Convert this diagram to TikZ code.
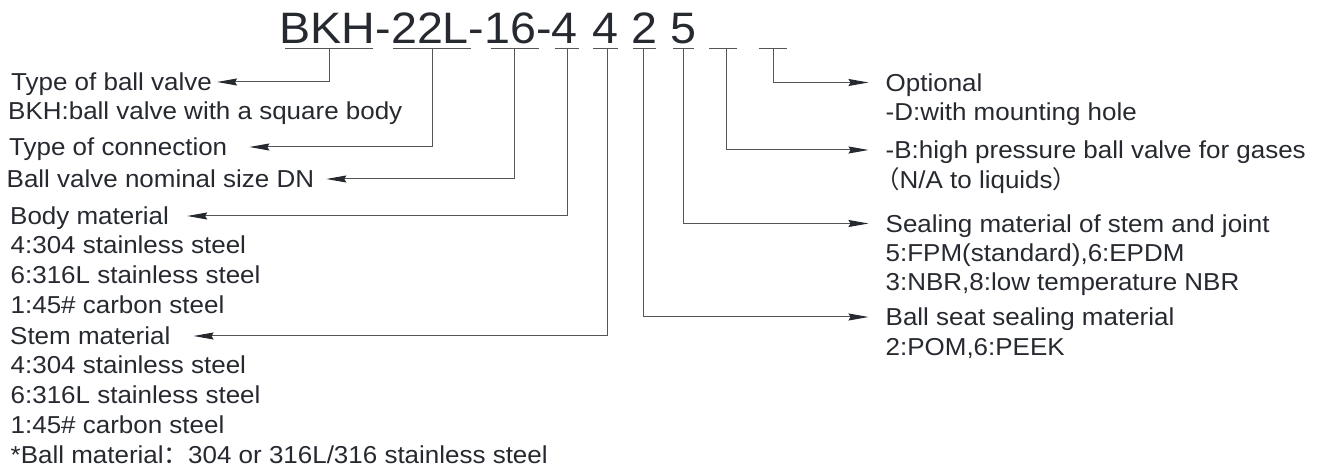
\documentclass[tikz,border=0pt]{standalone}
\usepackage{fontspec}
\setmainfont{Liberation Sans}[FakeStretch=1.06]
\newfontfamily\cjk{Noto Sans CJK SC}
\usetikzlibrary{arrows.meta}
\definecolor{ink}{HTML}{262A30}
\definecolor{wire}{HTML}{555555}
\tikzset{
  code/.style={inner sep=0pt, anchor=base, text=ink, font=\fontsize{44}{50}\selectfont},
  lbl/.style={inner sep=0pt, anchor=west, text=ink, text height=17.5pt, text depth=0pt, font=\fontsize{24.5}{29}\selectfont},
  uline/.style={wire, line width=1pt},
  lead/.style={wire, line width=1pt, -{Stealth[length=20pt,width=7pt,inset=2pt,color=ink]}}
}
\begin{document}
\begin{tikzpicture}[x=1pt,y=-1pt]
\useasboundingbox (0,0) rectangle (1318,470);
% order code
\node[code, anchor=base west] (codeA) at (279.5,43.3) {BKH-22L-16-4};
\node[code] (codeB) at (605,43.3) {4};
\node[code] (codeC) at (644,43.3) {2};
\node[code] (codeD) at (683,43.3) {5};
% underlines
\draw[uline] (285,49) -- (373,49);
\draw[uline] (393,49) -- (471,49);
\draw[uline] (491,49) -- (539,49);
\draw[uline] (555,49) -- (579,49);
\draw[uline] (593,49) -- (618,49);
\draw[uline] (633,49) -- (656,49);
\draw[uline] (673,49) -- (694,49);
\draw[uline] (709,49) -- (737,49);
\draw[uline] (759,49) -- (787,49);
% stems
\coordinate (sType) at (329,49);
\coordinate (sConn) at (432,49);
\coordinate (sSize) at (514,49);
\coordinate (sBody) at (567,49);
\coordinate (sStem) at (607,49);
\coordinate (sSeat) at (643,49);
\coordinate (sSeal) at (683,49);
\coordinate (sGas) at (726,49);
\coordinate (sOpt) at (773,49);
% left side
\node[lbl] (lType) at (11,82) {Type of ball valve};
\node[lbl] (lType1) at (8,111) {BKH:ball valve with a square body};
\node[lbl] (lConn) at (9,147) {Type of connection};
\node[lbl] (lSize) at (6.5,179) {Ball valve nominal size DN};
\node[lbl] (lBody) at (10,216) {Body material};
\node[lbl] (lBody1) at (10.5,245) {4:304 stainless steel};
\node[lbl] (lBody2) at (10.5,275) {6:316L stainless steel};
\node[lbl] (lBody3) at (10.5,305) {1:45\# carbon steel};
\node[lbl] (lStem) at (10,336) {Stem material};
\node[lbl] (lStem1) at (10.5,365) {4:304 stainless steel};
\node[lbl] (lStem2) at (10.5,395) {6:316L stainless steel};
\node[lbl] (lStem3) at (10.5,425) {1:45\# carbon steel};
\node[lbl] (lBall) at (10.5,455) {*Ball material{\cjk ：}304 or 316L/316 stainless steel};
% right side
\node[lbl] (rOpt) at (885.5,82.5) {Optional};
\node[lbl] (rOpt1) at (885.5,111.7) {-D:with mounting hole};
\node[lbl] (rGas) at (885.5,150) {-B:high pressure ball valve for gases};
\node[lbl] (rGas1) at (875,180) {{\cjk （}N/A to liquids{\cjk ）}};
\node[lbl] (rSeal) at (885.5,223.5) {Sealing material of stem and joint};
\node[lbl] (rSeal1) at (885.5,253) {5:FPM(standard),6:EPDM};
\node[lbl] (rSeal2) at (885.5,282) {3:NBR,8:low temperature NBR};
\node[lbl] (rSeat) at (885.5,317) {Ball seat sealing material};
\node[lbl] (rSeat1) at (885.5,347) {2:POM,6:PEEK};
% leaders
\draw[lead] (sType) |- ([xshift=5pt]lType.east);
\draw[lead] (sConn) |- ([xshift=22pt]lConn.east);
\draw[lead] (sSize) |- ([xshift=12pt]lSize.east);
\draw[lead] (sBody) |- ([xshift=18pt]lBody.east);
\draw[lead] (sStem) |- ([xshift=23pt]lStem.east);
\draw[lead] (sOpt) |- ([xshift=-17pt]rOpt.west);
\draw[lead] (sGas) |- ([xshift=-17pt]rGas.west);
\draw[lead] (sSeal) |- ([xshift=-17pt]rSeal.west);
\draw[lead] (sSeat) |- ([xshift=-17pt]rSeat.west);
\end{tikzpicture}
\end{document}
